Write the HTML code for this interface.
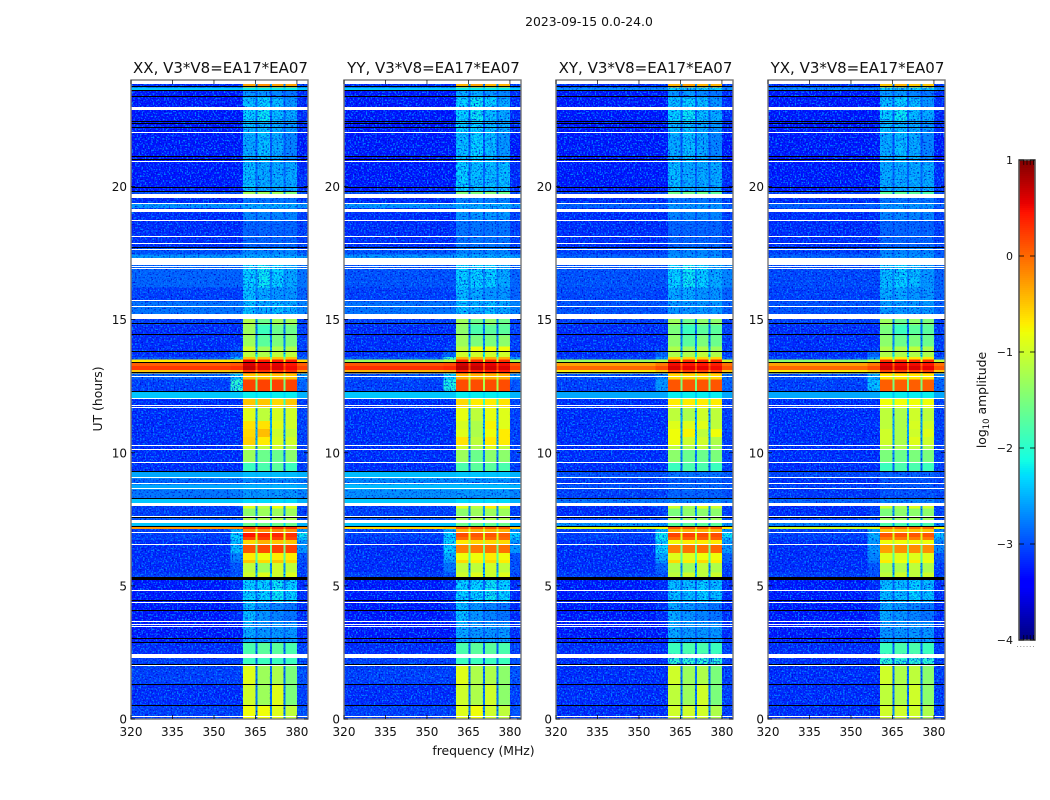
<!DOCTYPE html>
<html lang="en">
<head>
<meta charset="utf-8">
<title>2023-09-15 amplitude spectrogram</title>
<style>
html,body{margin:0;padding:0;background:#fff;width:1050px;height:800px;overflow:hidden}
svg{display:block}
text{font-family:"DejaVu Sans","Liberation Sans",sans-serif;fill:#111}
</style>
</head>
<body>
<svg id="figure" width="1050" height="800" viewBox="0 0 1050 800" xmlns="http://www.w3.org/2000/svg">
<defs>
<filter id="speckle-light" x="0" y="0" width="100%" height="100%" color-interpolation-filters="sRGB">
<feTurbulence type="fractalNoise" baseFrequency="0.62" numOctaves="1" seed="3"/>
<feColorMatrix type="matrix" values="0 0 0 0 0  0 0 0 0 0.5  0 0 0 0 1  6 0 0 0 -3"/>
</filter>
<filter id="speckle-dark" x="0" y="0" width="100%" height="100%" color-interpolation-filters="sRGB">
<feTurbulence type="fractalNoise" baseFrequency="0.62" numOctaves="1" seed="11"/>
<feColorMatrix type="matrix" values="0 0 0 0 0  0 0 0 0 0  0 0 0 0 0.78  4 0 0 0 -2.2"/>
</filter>
</defs>
<text x="589" y="26" text-anchor="middle" font-size="12.4">2023-09-15 0.0-24.0</text>
<text x="483.5" y="755" text-anchor="middle" font-size="12.4">frequency (MHz)</text>
<text transform="translate(102,399) rotate(-90)" text-anchor="middle" font-size="12.4">UT (hours)</text>
<text transform="translate(986,400) rotate(-90)" text-anchor="middle" font-size="12.4">log<tspan font-size="8.5" dy="3">10</tspan><tspan dy="-3"> amplitude</tspan></text>
<g id="panels"></g>
<g id="colorbar"></g>
</svg>
<script>
// Row format: start hour, end hour, log10 amplitude in: background, shoulder, sub-band 1-4, sub-band gaps, upper tail
const xxRows = [
[0,0.5,-3.1,-3.1,-0.8,-0.8,-0.9,-1.1,-2.7,-3.0],
[0.5,1.27,-3.2,-3.2,-1.0,-1.3,-0.9,-1.5,-2.8,-3.1],
[1.27,2.05,-3.1,-3.1,-0.9,-1.3,-1.2,-1.5,-2.8,-3.0],
[2.05,2.45,-3.1,-3.1,-1.9,-1.9,-1.9,-1.9,-2.9,-3.0],
[2.45,2.85,-3.2,-3.2,-1.8,-1.7,-1.7,-1.8,-2.9,-3.1],
[2.85,3.6,-3.3,-3.3,-2.5,-2.6,-2.6,-2.6,-2.9,-3.2],
[3.6,4.4,-3.3,-3.2,-2.4,-2.6,-2.7,-2.8,-2.9,-3.2],
[4.4,5.3,-3.3,-3.2,-2.3,-2.3,-2.2,-2.3,-2.9,-3.2],
[5.3,5.5,-3.1,-3.0,-1.0,-0.9,-1.0,-0.9,-2.3,-3.1],
[5.5,5.85,-3.2,-3.0,-1.1,-1.3,-1.0,-1.1,-2.6,-3.1],
[5.85,5.97,-3.2,-2.8,-0.5,-0.6,-0.5,-0.6,-1.8,-3.0],
[5.97,6.23,-3.2,-2.7,-0.7,-0.8,-0.7,-0.7,-1.7,-3.0],
[6.23,6.55,-3.2,-2.4,0.1,0.15,0.2,0.2,-1.5,-2.6],
[6.55,6.72,-3.2,-2.4,-0.6,-0.4,-0.5,-0.5,-1.2,-2.6],
[6.72,6.84,-3.1,-2.3,0.2,0.25,0.2,0.2,-1.0,-2.4],
[6.84,6.98,-3.1,-2.3,0.45,0.35,0.35,0.3,-0.9,-2.2],
[6.98,7.13,-3.1,-2.5,-0.2,-0.2,-0.2,-0.2,-1.0,-2.6],
[7.13,7.22,-0.25,-0.2,0.3,0.3,0.3,0.3,-0.2,-0.2],
[7.22,7.47,-2.4,-2.4,-1.6,-1.6,-1.6,-1.6,-2.3,-2.5],
[7.47,7.6,-3.0,-3.0,-1.2,-1.2,-1.2,-1.2,-2.6,-3.0],
[7.6,7.9,-3.1,-3.1,-1.4,-1.3,-1.3,-1.3,-2.6,-3.1],
[7.9,8.0,-3.1,-3.1,-0.9,-1.1,-0.8,-0.9,-2.6,-3.1],
[8.0,8.26,-2.4,-2.4,-2.3,-2.3,-2.3,-2.3,-2.4,-2.5],
[8.26,8.62,-2.8,-2.75,-2.6,-2.6,-2.6,-2.6,-2.7,-2.7],
[8.62,8.81,-2.55,-2.55,-2.5,-2.5,-2.5,-2.5,-2.55,-2.55],
[8.81,9.04,-2.9,-2.85,-2.7,-2.7,-2.7,-2.7,-2.8,-2.8],
[9.04,9.27,-2.55,-2.55,-2.45,-2.45,-2.45,-2.45,-2.5,-2.5],
[9.27,9.63,-3.2,-3.2,-1.9,-1.8,-1.7,-1.9,-2.9,-3.1],
[9.63,10.1,-3.2,-3.2,-1.3,-1.6,-1.6,-1.4,-2.7,-3.1],
[10.1,10.3,-3.2,-3.2,-1.0,-1.1,-1.0,-1.2,-2.6,-3.1],
[10.3,10.6,-3.2,-3.2,-0.55,-0.7,-0.95,-1.0,-2.5,-3.1],
[10.6,10.9,-3.2,-3.2,-0.6,-0.45,-1.0,-1.1,-2.5,-3.1],
[10.9,11.2,-3.2,-3.2,-0.65,-0.65,-0.9,-1.0,-2.5,-3.1],
[11.2,11.7,-3.2,-3.2,-0.9,-1.1,-0.95,-1.0,-2.5,-3.1],
[11.7,12.05,-3.2,-3.2,-0.5,-0.5,-0.6,-0.5,-1.9,-3.1],
[12.05,12.28,-2.4,-2.4,-2.2,-2.2,-2.2,-2.2,-2.3,-2.5],
[12.28,12.75,-3.1,-2.0,0.2,0.2,0.2,0.2,-1.5,-2.9],
[12.75,12.98,-2.9,-2.4,-0.5,-0.5,-0.5,-0.5,-1.2,-2.6],
[12.98,13.1,-0.5,-0.4,0.3,0.3,0.3,0.3,-0.2,-0.3],
[13.1,13.25,0.25,0.3,0.7,0.6,0.6,0.5,0.2,0.2],
[13.25,13.38,0.05,0.1,0.6,0.55,0.55,0.45,0.05,0.05],
[13.38,13.5,-0.7,-0.6,0.5,0.4,0.4,0.4,-0.7,-0.6],
[13.5,13.6,-3.0,-2.5,-0.5,-0.5,-0.5,-0.5,-1.6,-2.9],
[13.6,13.8,-3.2,-2.9,-1.1,-1.2,-1.1,-1.1,-2.2,-3.1],
[13.8,14.0,-3.2,-3.1,-1.0,-1.3,-1.2,-1.2,-2.5,-3.1],
[14.0,14.4,-3.2,-3.2,-1.3,-1.7,-1.5,-1.5,-2.7,-3.1],
[14.4,14.8,-3.2,-3.2,-1.3,-1.9,-1.6,-1.6,-2.8,-3.1],
[14.8,15.2,-3.1,-3.1,-1.2,-1.6,-1.3,-1.3,-2.7,-3.1],
[15.2,15.68,-2.8,-2.8,-2.4,-2.5,-2.4,-2.5,-2.7,-2.7],
[15.68,16.2,-3.1,-3.1,-2.4,-2.5,-2.6,-2.6,-2.8,-2.9],
[16.2,17.05,-2.9,-2.9,-2.3,-2.2,-2.3,-2.5,-2.7,-2.8],
[17.05,17.45,-2.6,-2.6,-2.5,-2.5,-2.5,-2.5,-2.6,-2.6],
[17.45,17.7,-3.0,-3.0,-2.7,-2.7,-2.7,-2.7,-2.9,-3.0],
[17.7,18.7,-3.2,-3.2,-2.9,-2.9,-2.9,-2.9,-3.0,-3.1],
[18.7,19.2,-3.2,-3.2,-2.7,-2.7,-2.7,-2.7,-3.0,-3.1],
[19.2,19.35,-2.6,-2.6,-2.5,-2.5,-2.5,-2.5,-2.6,-2.6],
[19.35,19.72,-3.2,-3.2,-2.8,-2.8,-2.8,-2.8,-3.0,-3.1],
[19.72,19.8,-3.0,-3.0,-1.3,-1.3,-1.3,-1.5,-2.6,-3.0],
[19.8,20.9,-3.3,-3.3,-2.4,-2.5,-2.5,-2.5,-2.9,-3.2],
[20.9,22.0,-3.3,-3.3,-2.5,-2.4,-2.5,-2.7,-3.0,-3.3],
[22.0,22.45,-3.3,-3.3,-2.4,-2.4,-2.5,-2.6,-3.0,-3.2],
[22.45,22.87,-3.3,-3.3,-2.3,-2.2,-2.4,-2.5,-2.9,-3.2],
[22.87,23.35,-3.3,-3.3,-2.4,-2.3,-2.4,-2.6,-2.9,-3.2],
[23.35,23.6,-3.3,-3.3,-2.6,-2.6,-2.7,-2.8,-3.0,-3.2],
[23.6,23.72,-2.4,-2.4,-2.2,-2.2,-2.2,-2.2,-2.3,-2.4],
[23.72,23.85,-3.2,-3.2,-0.3,-0.2,-0.3,-0.3,-2.6,-3.1]
];
const yyRows = [
[0,0.5,-3.1,-3.1,-0.9,-0.8,-1.0,-1.1,-2.7,-3.0],
[0.5,1.27,-3.2,-3.2,-1.0,-1.2,-1.0,-1.4,-2.8,-3.1],
[1.27,2.05,-3.1,-3.1,-0.9,-1.2,-1.2,-1.4,-2.8,-3.0],
[2.05,2.45,-3.1,-3.1,-1.9,-1.9,-1.9,-1.9,-2.9,-3.0],
[2.45,2.85,-3.2,-3.2,-1.8,-1.7,-1.7,-1.8,-2.9,-3.1],
[2.85,3.6,-3.3,-3.3,-2.5,-2.6,-2.6,-2.6,-2.9,-3.2],
[3.6,4.4,-3.3,-3.2,-2.4,-2.6,-2.7,-2.8,-2.9,-3.2],
[4.4,5.3,-3.3,-3.2,-2.3,-2.3,-2.2,-2.3,-2.9,-3.2],
[5.3,5.5,-3.1,-3.0,-1.0,-0.9,-1.0,-0.9,-2.3,-3.1],
[5.5,5.85,-3.2,-2.8,-1.1,-1.1,-1.0,-1.1,-2.6,-3.0],
[5.85,5.97,-3.2,-2.6,-0.6,-0.7,-0.6,-0.7,-1.8,-3.0],
[5.97,6.23,-3.2,-2.5,-0.8,-0.8,-0.7,-0.8,-1.7,-3.0],
[6.23,6.55,-3.2,-2.3,-0.15,-0.1,-0.05,-0.05,-1.5,-2.6],
[6.55,6.72,-3.2,-2.3,-0.7,-0.6,-0.6,-0.6,-1.2,-2.6],
[6.72,6.84,-3.1,-2.3,0.0,0.0,0.0,0.0,-1.0,-2.4],
[6.84,6.98,-3.1,-2.3,0.15,0.1,0.1,0.05,-0.9,-2.3],
[6.98,7.13,-3.1,-2.5,-0.4,-0.4,-0.4,-0.4,-1.0,-2.6],
[7.13,7.22,-0.6,-0.5,0.1,0.1,0.1,0.1,-0.4,-0.5],
[7.22,7.47,-2.4,-2.4,-1.6,-1.6,-1.6,-1.6,-2.3,-2.5],
[7.47,7.6,-3.0,-3.0,-1.2,-1.2,-1.2,-1.2,-2.6,-3.0],
[7.6,7.9,-3.1,-3.1,-1.4,-1.3,-1.3,-1.3,-2.6,-3.1],
[7.9,8.0,-3.1,-3.1,-0.9,-1.1,-0.7,-0.9,-2.6,-3.1],
[8.0,8.26,-2.4,-2.4,-2.3,-2.3,-2.3,-2.3,-2.4,-2.5],
[8.26,8.62,-2.65,-2.65,-2.6,-2.6,-2.6,-2.6,-2.65,-2.7],
[8.62,8.81,-2.45,-2.45,-2.45,-2.45,-2.45,-2.45,-2.45,-2.5],
[8.81,9.04,-2.7,-2.7,-2.65,-2.65,-2.65,-2.65,-2.7,-2.75],
[9.04,9.27,-2.45,-2.45,-2.4,-2.4,-2.4,-2.4,-2.45,-2.5],
[9.27,9.63,-3.2,-3.2,-1.8,-1.7,-1.7,-1.8,-2.9,-3.1],
[9.63,10.1,-3.2,-3.2,-1.3,-1.6,-1.4,-1.4,-2.7,-3.1],
[10.1,10.3,-3.2,-3.2,-1.0,-1.2,-0.9,-1.1,-2.6,-3.1],
[10.3,10.6,-3.2,-3.2,-0.65,-1.1,-0.7,-0.7,-2.5,-3.1],
[10.6,10.9,-3.2,-3.2,-0.9,-1.2,-0.8,-0.7,-2.5,-3.1],
[10.9,11.2,-3.2,-3.2,-0.95,-1.2,-0.75,-0.9,-2.5,-3.1],
[11.2,11.7,-3.2,-3.2,-0.85,-1.1,-0.85,-0.9,-2.5,-3.1],
[11.7,12.05,-3.2,-3.2,-0.6,-0.7,-0.7,-0.65,-1.9,-3.1],
[12.05,12.28,-2.4,-2.4,-2.2,-2.2,-2.2,-2.2,-2.3,-2.5],
[12.28,12.75,-3.1,-2.1,0.15,0.15,0.15,0.15,-1.2,-3.0],
[12.75,12.98,-3.0,-2.3,-0.4,-0.4,-0.4,-0.4,-1.0,-2.6],
[12.98,13.1,-0.4,-0.3,0.4,0.4,0.4,0.4,-0.1,-0.2],
[13.1,13.25,0.3,0.35,0.75,0.7,0.65,0.6,0.2,0.2],
[13.25,13.38,0.1,0.15,0.65,0.6,0.55,0.5,0.1,0.1],
[13.38,13.5,-1.3,-1.1,0.35,0.3,0.3,0.3,-0.9,-1.2],
[13.5,13.6,-3.0,-2.0,-0.4,-0.4,-0.4,-0.4,-1.6,-2.6],
[13.6,13.8,-3.2,-2.9,-1.0,-1.0,-1.0,-1.0,-2.2,-3.1],
[13.8,14.0,-3.2,-3.1,-1.1,-0.8,-0.8,-0.8,-2.5,-3.1],
[14.0,14.4,-3.2,-3.2,-1.3,-1.5,-1.5,-1.4,-2.7,-3.1],
[14.4,14.8,-3.2,-3.2,-1.4,-1.8,-1.7,-1.7,-2.8,-3.1],
[14.8,15.2,-3.1,-3.1,-1.3,-1.6,-1.4,-1.6,-2.7,-3.1],
[15.2,15.68,-2.8,-2.8,-2.4,-2.5,-2.4,-2.5,-2.7,-2.7],
[15.68,16.2,-3.1,-3.1,-2.4,-2.5,-2.6,-2.6,-2.8,-2.9],
[16.2,17.05,-3.0,-3.0,-2.3,-2.3,-2.3,-2.5,-2.7,-2.9],
[17.05,17.45,-2.6,-2.6,-2.5,-2.5,-2.5,-2.5,-2.6,-2.6],
[17.45,17.7,-3.0,-3.0,-2.7,-2.7,-2.7,-2.7,-2.9,-3.0],
[17.7,18.7,-3.2,-3.2,-2.8,-2.8,-2.8,-2.8,-3.0,-3.1],
[18.7,19.2,-3.2,-3.2,-2.6,-2.6,-2.6,-2.6,-3.0,-3.1],
[19.2,19.35,-2.6,-2.6,-2.5,-2.5,-2.5,-2.5,-2.6,-2.6],
[19.35,19.72,-3.2,-3.2,-2.7,-2.7,-2.7,-2.7,-3.0,-3.1],
[19.72,19.8,-3.0,-3.0,-1.5,-1.5,-1.5,-1.6,-2.6,-3.0],
[19.8,20.9,-3.3,-3.3,-2.3,-2.4,-2.4,-2.4,-2.9,-3.2],
[20.9,22.0,-3.3,-3.3,-2.4,-2.3,-2.4,-2.6,-3.0,-3.3],
[22.0,22.45,-3.3,-3.3,-2.3,-2.3,-2.4,-2.5,-3.0,-3.2],
[22.45,22.87,-3.3,-3.3,-2.3,-2.2,-2.4,-2.5,-2.9,-3.2],
[22.87,23.35,-3.3,-3.3,-2.3,-2.2,-2.3,-2.5,-2.9,-3.2],
[23.35,23.6,-3.3,-3.3,-2.5,-2.5,-2.6,-2.7,-3.0,-3.2],
[23.6,23.72,-2.4,-2.4,-2.2,-2.2,-2.2,-2.2,-2.3,-2.4],
[23.72,23.85,-3.2,-3.2,-0.4,-0.3,-0.4,-0.4,-2.6,-3.1]
];
const xyRows = [
[0,0.5,-3.2,-3.2,-1.0,-1.0,-1.0,-1.2,-2.7,-3.1],
[0.5,1.27,-3.2,-3.2,-1.1,-1.3,-1.0,-1.5,-2.8,-3.1],
[1.27,2.05,-3.2,-3.2,-1.0,-1.3,-1.2,-1.5,-2.8,-3.1],
[2.05,2.45,-3.2,-3.2,-2.0,-2.0,-2.0,-2.0,-2.9,-3.1],
[2.45,2.85,-3.2,-3.2,-1.9,-1.8,-1.8,-1.9,-2.9,-3.1],
[2.85,3.6,-3.3,-3.3,-2.5,-2.6,-2.6,-2.6,-2.9,-3.2],
[3.6,4.4,-3.3,-3.2,-2.5,-2.6,-2.7,-2.8,-2.9,-3.2],
[4.4,5.3,-3.3,-3.2,-2.4,-2.4,-2.3,-2.4,-2.9,-3.2],
[5.3,5.5,-3.1,-3.0,-1.1,-1.0,-1.1,-1.0,-2.3,-3.1],
[5.5,5.85,-3.2,-2.9,-1.2,-1.3,-1.1,-1.2,-2.6,-3.1],
[5.85,5.97,-3.2,-2.6,-0.6,-0.7,-0.6,-0.7,-1.8,-2.9],
[5.97,6.23,-3.2,-2.5,-0.9,-0.9,-0.8,-0.8,-1.7,-2.9],
[6.23,6.55,-3.2,-2.3,-0.15,-0.05,-0.05,0.0,-1.5,-2.6],
[6.55,6.72,-3.2,-2.3,-0.8,-0.7,-0.7,-0.7,-1.2,-2.6],
[6.72,6.84,-3.1,-2.2,0.0,0.05,0.05,0.05,-1.0,-2.4],
[6.84,6.98,-3.1,-2.2,0.2,0.2,0.15,0.15,-0.9,-2.2],
[6.98,7.13,-3.1,-2.5,-0.4,-0.4,-0.4,-0.4,-1.0,-2.6],
[7.13,7.22,-0.9,-0.8,0.1,0.1,0.1,0.1,-0.4,-0.7],
[7.22,7.47,-2.6,-2.6,-1.7,-1.7,-1.7,-1.7,-2.4,-2.6],
[7.47,7.6,-3.1,-3.0,-1.3,-1.3,-1.3,-1.3,-2.6,-3.0],
[7.6,7.9,-3.2,-3.1,-1.5,-1.4,-1.4,-1.4,-2.6,-3.1],
[7.9,8.0,-3.2,-3.1,-1.0,-1.2,-0.9,-1.0,-2.6,-3.1],
[8.0,8.26,-2.8,-2.8,-2.7,-2.7,-2.7,-2.7,-2.8,-2.8],
[8.26,8.62,-3.1,-3.1,-2.9,-2.9,-2.9,-2.9,-3.0,-3.0],
[8.62,8.81,-3.0,-3.0,-2.85,-2.85,-2.85,-2.85,-2.95,-2.95],
[8.81,9.04,-3.15,-3.15,-2.95,-2.95,-2.95,-2.95,-3.0,-3.05],
[9.04,9.27,-3.0,-3.0,-2.8,-2.8,-2.8,-2.8,-2.9,-2.95],
[9.27,9.63,-3.2,-3.2,-1.9,-1.8,-1.8,-1.9,-2.9,-3.1],
[9.63,10.1,-3.2,-3.2,-1.4,-1.6,-1.6,-1.5,-2.7,-3.1],
[10.1,10.3,-3.2,-3.2,-1.1,-1.2,-1.1,-1.3,-2.6,-3.1],
[10.3,10.6,-3.2,-3.2,-0.8,-1.0,-1.0,-1.2,-2.5,-3.1],
[10.6,10.9,-3.2,-3.2,-0.8,-0.75,-1.1,-0.8,-2.5,-3.1],
[10.9,11.2,-3.2,-3.2,-0.9,-0.9,-0.9,-1.1,-2.5,-3.1],
[11.2,11.7,-3.2,-3.2,-1.1,-1.2,-1.0,-1.1,-2.5,-3.1],
[11.7,12.05,-3.2,-3.2,-0.7,-0.7,-0.7,-0.7,-1.9,-3.1],
[12.05,12.28,-2.55,-2.55,-2.2,-2.2,-2.2,-2.2,-2.4,-2.55],
[12.28,12.75,-3.1,-2.6,0.1,0.1,0.1,0.1,-1.5,-2.9],
[12.75,12.98,-3.0,-2.7,-0.6,-0.6,-0.6,-0.6,-1.3,-2.8],
[12.98,13.1,-0.7,-0.5,0.2,0.2,0.2,0.2,-0.3,-0.5],
[13.1,13.25,0.0,0.15,0.6,0.55,0.55,0.5,0.15,0.1],
[13.25,13.38,-0.3,-0.1,0.5,0.45,0.45,0.4,0.0,-0.05],
[13.38,13.5,-1.3,-1.1,0.3,0.3,0.3,0.3,-0.8,-1.0],
[13.5,13.6,-3.1,-2.6,-0.6,-0.6,-0.6,-0.6,-1.6,-2.9],
[13.6,13.8,-3.2,-2.9,-1.2,-1.2,-1.1,-1.2,-2.2,-3.1],
[13.8,14.0,-3.2,-3.1,-1.2,-1.3,-1.2,-1.3,-2.5,-3.1],
[14.0,14.4,-3.2,-3.2,-1.4,-1.7,-1.5,-1.6,-2.7,-3.1],
[14.4,14.8,-3.2,-3.2,-1.5,-1.9,-1.7,-1.7,-2.8,-3.1],
[14.8,15.2,-3.1,-3.1,-1.3,-1.6,-1.4,-1.4,-2.7,-3.1],
[15.2,15.68,-3.0,-3.0,-2.6,-2.6,-2.6,-2.6,-2.8,-2.9],
[15.68,16.2,-3.05,-3.1,-2.5,-2.5,-2.6,-2.6,-2.8,-2.9],
[16.2,17.05,-3.0,-3.0,-2.3,-2.2,-2.3,-2.5,-2.7,-2.7],
[17.05,17.45,-2.9,-2.9,-2.6,-2.6,-2.6,-2.6,-2.8,-2.9],
[17.45,17.7,-3.1,-3.1,-2.7,-2.7,-2.7,-2.7,-2.9,-3.0],
[17.7,18.7,-3.2,-3.2,-2.9,-2.9,-2.9,-2.9,-3.0,-3.1],
[18.7,19.2,-3.2,-3.2,-2.7,-2.7,-2.7,-2.7,-3.0,-3.1],
[19.2,19.35,-2.9,-2.9,-2.6,-2.6,-2.6,-2.6,-2.8,-2.9],
[19.35,19.72,-3.2,-3.2,-2.8,-2.8,-2.8,-2.8,-3.0,-3.1],
[19.72,19.8,-3.1,-3.0,-1.6,-1.6,-1.6,-1.7,-2.6,-3.0],
[19.8,20.9,-3.3,-3.3,-2.4,-2.5,-2.5,-2.5,-2.9,-3.2],
[20.9,22.0,-3.3,-3.3,-2.5,-2.4,-2.5,-2.7,-3.0,-3.3],
[22.0,22.45,-3.3,-3.3,-2.4,-2.4,-2.5,-2.6,-3.0,-3.2],
[22.45,22.87,-3.3,-3.3,-2.3,-2.2,-2.4,-2.5,-2.9,-3.2],
[22.87,23.35,-3.3,-3.3,-2.4,-2.3,-2.4,-2.6,-2.9,-3.2],
[23.35,23.6,-3.3,-3.3,-2.6,-2.6,-2.7,-2.8,-3.0,-3.2],
[23.6,23.72,-2.65,-2.65,-2.3,-2.3,-2.3,-2.3,-2.5,-2.65],
[23.72,23.85,-3.2,-3.2,-0.4,-0.3,-0.4,-0.4,-2.6,-3.1]
];
const yxRows = [
[0,0.5,-3.2,-3.2,-1.0,-1.0,-1.0,-1.2,-2.7,-3.1],
[0.5,1.27,-3.2,-3.2,-1.1,-1.2,-1.0,-1.4,-2.8,-3.1],
[1.27,2.05,-3.2,-3.2,-1.0,-1.2,-1.1,-1.4,-2.8,-3.1],
[2.05,2.45,-3.2,-3.2,-2.0,-2.0,-2.0,-2.0,-2.9,-3.1],
[2.45,2.85,-3.2,-3.2,-1.9,-1.8,-1.8,-1.9,-2.9,-3.1],
[2.85,3.6,-3.3,-3.3,-2.6,-2.6,-2.6,-2.6,-2.9,-3.2],
[3.6,4.4,-3.3,-3.2,-2.5,-2.6,-2.7,-2.8,-2.9,-3.2],
[4.4,5.3,-3.3,-3.2,-2.4,-2.4,-2.3,-2.4,-2.9,-3.2],
[5.3,5.5,-3.1,-3.0,-1.1,-1.0,-1.1,-1.0,-2.3,-3.1],
[5.5,5.85,-3.2,-3.0,-1.2,-1.2,-1.1,-1.2,-2.6,-3.1],
[5.85,5.97,-3.2,-2.8,-0.7,-0.8,-0.7,-0.8,-1.8,-3.0],
[5.97,6.23,-3.2,-2.7,-0.9,-0.9,-0.9,-0.9,-1.7,-3.0],
[6.23,6.55,-3.2,-2.6,-0.3,-0.2,-0.2,-0.2,-1.5,-2.7],
[6.55,6.72,-3.2,-2.6,-0.8,-0.8,-0.8,-0.8,-1.2,-2.7],
[6.72,6.84,-3.1,-2.5,-0.1,-0.1,-0.1,-0.1,-1.0,-2.5],
[6.84,6.98,-3.1,-2.5,0.1,0.1,0.1,0.1,-0.9,-2.4],
[6.98,7.13,-3.1,-2.6,-0.5,-0.5,-0.5,-0.5,-1.0,-2.7],
[7.13,7.22,-1.0,-0.9,0.0,0.0,0.0,0.0,-0.5,-0.8],
[7.22,7.47,-2.7,-2.7,-1.8,-1.8,-1.8,-1.8,-2.4,-2.7],
[7.47,7.6,-3.1,-3.0,-1.3,-1.3,-1.3,-1.3,-2.6,-3.0],
[7.6,7.9,-3.2,-3.1,-1.5,-1.4,-1.4,-1.4,-2.6,-3.1],
[7.9,8.0,-3.2,-3.1,-1.0,-1.2,-0.9,-1.0,-2.6,-3.1],
[8.0,8.26,-2.9,-2.9,-2.7,-2.7,-2.7,-2.7,-2.8,-2.9],
[8.26,8.62,-3.15,-3.15,-3.0,-3.0,-3.0,-3.0,-3.05,-3.05],
[8.62,8.81,-3.1,-3.1,-2.95,-2.95,-2.95,-2.95,-3.0,-3.05],
[8.81,9.04,-3.2,-3.2,-3.0,-3.0,-3.0,-3.0,-3.05,-3.1],
[9.04,9.27,-3.05,-3.05,-2.9,-2.9,-2.9,-2.9,-3.0,-3.0],
[9.27,9.63,-3.2,-3.2,-1.9,-1.8,-1.8,-1.9,-2.9,-3.1],
[9.63,10.1,-3.2,-3.2,-1.5,-1.6,-1.5,-1.5,-2.7,-3.1],
[10.1,10.3,-3.2,-3.2,-1.2,-1.2,-1.1,-1.2,-2.6,-3.1],
[10.3,10.6,-3.2,-3.2,-1.0,-1.2,-0.9,-1.0,-2.5,-3.1],
[10.6,10.9,-3.2,-3.2,-1.0,-1.2,-1.0,-0.9,-2.5,-3.1],
[10.9,11.2,-3.2,-3.2,-1.1,-1.2,-0.95,-1.0,-2.5,-3.1],
[11.2,11.7,-3.2,-3.2,-1.1,-1.2,-1.0,-1.1,-2.5,-3.1],
[11.7,12.05,-3.2,-3.2,-0.8,-0.8,-0.8,-0.8,-1.9,-3.1],
[12.05,12.28,-2.55,-2.55,-2.2,-2.2,-2.2,-2.2,-2.4,-2.55],
[12.28,12.75,-3.1,-2.4,0.05,0.05,0.05,0.05,-1.5,-2.9],
[12.75,12.98,-3.0,-2.5,-0.7,-0.7,-0.7,-0.7,-1.3,-2.7],
[12.98,13.1,-0.7,-0.5,0.2,0.2,0.2,0.2,-0.3,-0.5],
[13.1,13.25,0.0,0.15,0.65,0.6,0.6,0.55,0.15,0.1],
[13.25,13.38,-0.3,-0.1,0.55,0.5,0.5,0.45,0.0,-0.05],
[13.38,13.5,-1.4,-1.1,0.3,0.3,0.3,0.3,-0.8,-1.1],
[13.5,13.6,-3.1,-2.6,-0.7,-0.7,-0.7,-0.7,-1.6,-2.9],
[13.6,13.8,-3.2,-2.9,-1.2,-1.2,-1.2,-1.2,-2.2,-3.1],
[13.8,14.0,-3.2,-3.1,-1.2,-1.2,-1.1,-1.2,-2.5,-3.1],
[14.0,14.4,-3.2,-3.2,-1.4,-1.6,-1.5,-1.6,-2.7,-3.1],
[14.4,14.8,-3.2,-3.2,-1.5,-1.9,-1.7,-1.7,-2.8,-3.1],
[14.8,15.2,-3.1,-3.1,-1.3,-1.6,-1.4,-1.5,-2.7,-3.1],
[15.2,15.68,-3.0,-3.0,-2.6,-2.6,-2.6,-2.6,-2.8,-2.9],
[15.68,16.2,-3.1,-3.1,-2.5,-2.5,-2.6,-2.6,-2.8,-2.9],
[16.2,17.05,-3.05,-3.05,-2.4,-2.3,-2.4,-2.6,-2.7,-2.9],
[17.05,17.45,-2.9,-2.9,-2.6,-2.6,-2.6,-2.6,-2.8,-2.9],
[17.45,17.7,-3.1,-3.1,-2.7,-2.7,-2.7,-2.7,-2.9,-3.0],
[17.7,18.7,-3.2,-3.2,-2.9,-2.9,-2.9,-2.9,-3.0,-3.1],
[18.7,19.2,-3.2,-3.2,-2.7,-2.7,-2.7,-2.7,-3.0,-3.1],
[19.2,19.35,-2.9,-2.9,-2.6,-2.6,-2.6,-2.6,-2.8,-2.9],
[19.35,19.72,-3.2,-3.2,-2.8,-2.8,-2.8,-2.8,-3.0,-3.1],
[19.72,19.8,-3.1,-3.0,-1.7,-1.7,-1.7,-1.8,-2.6,-3.0],
[19.8,20.9,-3.3,-3.3,-2.5,-2.5,-2.5,-2.5,-2.9,-3.2],
[20.9,22.0,-3.3,-3.3,-2.5,-2.4,-2.5,-2.7,-3.0,-3.3],
[22.0,22.45,-3.3,-3.3,-2.4,-2.4,-2.5,-2.6,-3.0,-3.2],
[22.45,22.87,-3.3,-3.3,-2.3,-2.2,-2.4,-2.5,-2.9,-3.2],
[22.87,23.35,-3.3,-3.3,-2.4,-2.3,-2.4,-2.6,-2.9,-3.2],
[23.35,23.6,-3.3,-3.3,-2.6,-2.6,-2.7,-2.8,-3.0,-3.2],
[23.6,23.72,-2.65,-2.65,-2.3,-2.3,-2.3,-2.3,-2.5,-2.65],
[23.72,23.85,-3.2,-3.2,-0.5,-0.4,-0.5,-0.5,-2.6,-3.1]
];
// Frequency segments in MHz: background, shoulder, sb1, gap, sb2, gap, sb3, gap, sb4, tail
const segmentEdges = [320,356,360.5,365,365.7,370.2,370.9,375.1,375.8,380,384];
const segmentLevelIndex = [2,3,4,8,5,8,6,8,7,9];
// Flagged (empty) time ranges in hours
const flaggedHours = [[0.05,0.1],[2.0,2.04],[2.29,2.44],[3.44,3.48],[3.53,3.57],[3.63,3.67],[4.37,4.41],[4.82,4.86],[6.55,6.59],[6.97,7.01],[7.35,7.47],[7.59,7.63],[8.0,8.11],[8.62,8.66],[8.81,8.85],[9.04,9.08],[9.63,9.67],[10.1,10.14],[10.26,10.3],[11.68,11.72],[11.77,11.81],[12.03,12.07],[12.86,12.9],[15.0,15.2],[15.45,15.5],[15.68,15.72],[16.91,16.95],[16.97,17.01],[17.05,17.3],[17.6,17.64],[17.85,17.89],[18.09,18.13],[18.69,18.73],[19.05,19.15],[19.35,19.39],[19.57,19.72],[20.9,20.95],[22.0,22.03],[22.87,22.97],[23.85,24]];
// Zero-valued time ranges in hours
const zeroHours = [[0.5,0.54],[1.27,1.31],[2.04,2.08],[2.84,2.88],[2.99,3.03],[4.04,4.08],[4.44,4.48],[5.22,5.34],[7.22,7.26],[7.53,7.57],[8.26,8.3],[9.27,9.32],[12.28,12.32],[12.98,13.02],[13.38,13.42],[13.79,13.83],[14.41,14.45],[14.82,14.86],[17.69,17.73],[19.79,19.83],[19.94,19.98],[20.99,21.03],[21.12,21.16],[22.18,22.22],[22.34,22.38],[22.43,22.47],[23.37,23.41],[23.58,23.62],[23.74,23.78]];
const panelTitles = ['XX, V3*V8=EA17*EA07','YY, V3*V8=EA17*EA07','XY, V3*V8=EA17*EA07','YX, V3*V8=EA17*EA07'];
const panelKeys = ['xx','yy','xy','yx'];
const panelRows = [xxRows,yyRows,xyRows,yxRows];
const xTickValues = [320,335,350,365,380];
const yTickValues = [0,5,10,15,20];
const colorbarTicks = [1,0,-1,-2,-3,-4];
const colorbarMinorTicks = [0.3,0.5,0.7,0.9];

const SVG_NS = 'http://www.w3.org/2000/svg';
const panelLefts = [131,344,556,768];
const panelWidth = 177, panelTop = 80, panelBottom = 719;
function mk(tag, attrs, parent){
  const el = document.createElementNS(SVG_NS, tag);
  for (const k in attrs) el.setAttribute(k, attrs[k]);
  parent.appendChild(el);
  return el;
}
function ramp(t, xs, ys){
  for (let i = 1; i < xs.length; i++){
    if (t <= xs[i]) return ys[i-1] + (ys[i]-ys[i-1]) * (t-xs[i-1]) / (xs[i]-xs[i-1]);
  }
  return ys[ys.length-1];
}
function jet(v){
  const t = Math.max(0, Math.min(1, (v + 4) / 5));
  const r = ramp(t,[0,.35,.66,.89,1],[0,0,1,1,.5]);
  const g = ramp(t,[0,.125,.375,.64,.91,1],[0,0,1,1,0,0]);
  const b = ramp(t,[0,.11,.34,.65,1],[.5,1,1,0,0]);
  return 'rgb(' + Math.round(r*255) + ',' + Math.round(g*255) + ',' + Math.round(b*255) + ')';
}
const panelsRoot = document.getElementById('panels');
panelRows.forEach(function(rows, p){
  const left = panelLefts[p];
  const xScale = function(f){ return left + (f - 320) * panelWidth / 64; };
  const yScale = function(h){ return panelBottom - h * (panelBottom - panelTop) / 24; };
  const g = mk('g', {}, panelsRoot);
  
  
  const heat = mk('g', {'shape-rendering':'crispEdges'}, g);
  
  
  const clipId = 'noise-clip-' + panelKeys[p];
  const clip = mk('clipPath', {id: clipId}, g);
  rows.forEach(function(row){
    const y0 = yScale(row[1]), y1 = yScale(row[0]);
    const quietRow = row[2] > -2.6;
    segmentLevelIndex.forEach(function(idx, s){
      const x0 = xScale(segmentEdges[s]), x1 = xScale(segmentEdges[s+1]);
      const cell = mk('rect', {x:x0, y:y0, width:x1-x0, height:y1-y0, fill:jet(row[idx])}, heat);
      
      
      if (row[idx] < -1.95 && !quietRow) mk('rect', {x:x0, y:y0, width:x1-x0, height:y1-y0}, clip);
    });
  });
  const noise = mk('g', {'clip-path':'url(#' + clipId + ')'}, g);
  
  
  mk('rect', {x:left, y:panelTop, width:panelWidth, height:panelBottom-panelTop, filter:'url(#speckle-light)'}, noise);
  mk('rect', {x:left, y:panelTop, width:panelWidth, height:panelBottom-panelTop, filter:'url(#speckle-dark)'}, noise);
  const flagged = mk('g', {'shape-rendering':'crispEdges', fill:'#fff'}, g);
  
  
  flaggedHours.forEach(function(r){
    mk('rect', {x:left, y:Math.round(yScale(r[1])), width:panelWidth, height:Math.max(1, Math.round(yScale(r[0])-yScale(r[1])))}, flagged);
  });
  const zero = mk('g', {'shape-rendering':'crispEdges', fill:'#000'}, g);
  
  
  zeroHours.forEach(function(r){
    mk('rect', {x:left, y:Math.round(yScale(r[1])), width:panelWidth, height:Math.max(1, Math.round(yScale(r[0])-yScale(r[1])))}, zero);
  });
  const frame = mk('rect', {x:left, y:panelTop, width:panelWidth, height:panelBottom-panelTop, fill:'none', stroke:'#777', 'stroke-width':1.4}, g);
  
  
  const title = mk('text', {x:left + panelWidth/2 + 1, y:73, 'text-anchor':'middle', 'font-size':15}, g);
  
  
  title.textContent = panelTitles[p];
  xTickValues.forEach(function(v){
    const x = xScale(v);
    const tickB = mk('line', {x1:x, x2:x, y1:panelBottom, y2:panelBottom-4, stroke:'#000', 'stroke-width':0.7}, g);
    
    
    const tickT = mk('line', {x1:x, x2:x, y1:panelTop, y2:panelTop+4, stroke:'#000', 'stroke-width':0.7}, g);
    
    
    const label = mk('text', {x:x, y:736, 'text-anchor':'middle', 'font-size':12}, g);
    
    
    label.textContent = v;
  });
  yTickValues.forEach(function(v){
    const y = yScale(v);
    const tickL = mk('line', {x1:left, x2:left+4, y1:y, y2:y, stroke:'#000', 'stroke-width':0.7}, g);
    
    
    const tickR = mk('line', {x1:left+panelWidth, x2:left+panelWidth-4, y1:y, y2:y, stroke:'#000', 'stroke-width':0.7}, g);
    
    
    const label = mk('text', {x:left-4, y:y+4.5, 'text-anchor':'end', 'font-size':12}, g);
    
    
    label.textContent = v;
  });
});

// Colorbar
const cbRoot = document.getElementById('colorbar');
const cbLeft = 1019, cbWidth = 16, cbTop = 160, cbBottom = 640;
const cbScale = function(v){ return cbBottom - (v + 4) * (cbBottom - cbTop) / 5; };
const cbFill = mk('g', {'shape-rendering':'crispEdges'}, cbRoot);


for (let y = cbTop; y < cbBottom; y += 2){
  mk('rect', {x:cbLeft, y:y, width:cbWidth, height:2.5, fill:jet(-4 + (cbBottom - y - 1) * 5 / (cbBottom - cbTop))}, cbFill);
}
const cbFrame = mk('rect', {x:cbLeft, y:cbTop, width:cbWidth, height:cbBottom-cbTop, fill:'none', stroke:'#555', 'stroke-width':1.6}, cbRoot);


colorbarTicks.forEach(function(v){
  const y = cbScale(v);
  const t1 = mk('line', {x1:cbLeft, x2:cbLeft+5, y1:y, y2:y, stroke:'#000', 'stroke-width':0.8}, cbRoot);
  
  
  const t2 = mk('line', {x1:cbLeft+cbWidth, x2:cbLeft+cbWidth-5, y1:y, y2:y, stroke:'#000', 'stroke-width':0.8}, cbRoot);
  
  
  const label = mk('text', {x:1013, y:y+4, 'text-anchor':'end', 'font-size':11}, cbRoot);
  
  
  label.textContent = String(v).replace('-', '\u2212');
});
colorbarMinorTicks.forEach(function(f){
  const x = cbLeft + f * cbWidth;
  const top = mk('line', {x1:x, x2:x, y1:cbTop, y2:cbTop+5, stroke:'#000', 'stroke-width':0.7}, cbRoot);
  
  
  const bottom = mk('line', {x1:x, x2:x, y1:cbBottom, y2:cbBottom-5, stroke:'#000', 'stroke-width':0.7}, cbRoot);
  
  
});
const cbDots = mk('line', {x1:1017, x2:1035, y1:646.5, y2:646.5, stroke:'#999', 'stroke-width':1, 'stroke-dasharray':'1 2.2'}, cbRoot);


</script>
</body>
</html>
